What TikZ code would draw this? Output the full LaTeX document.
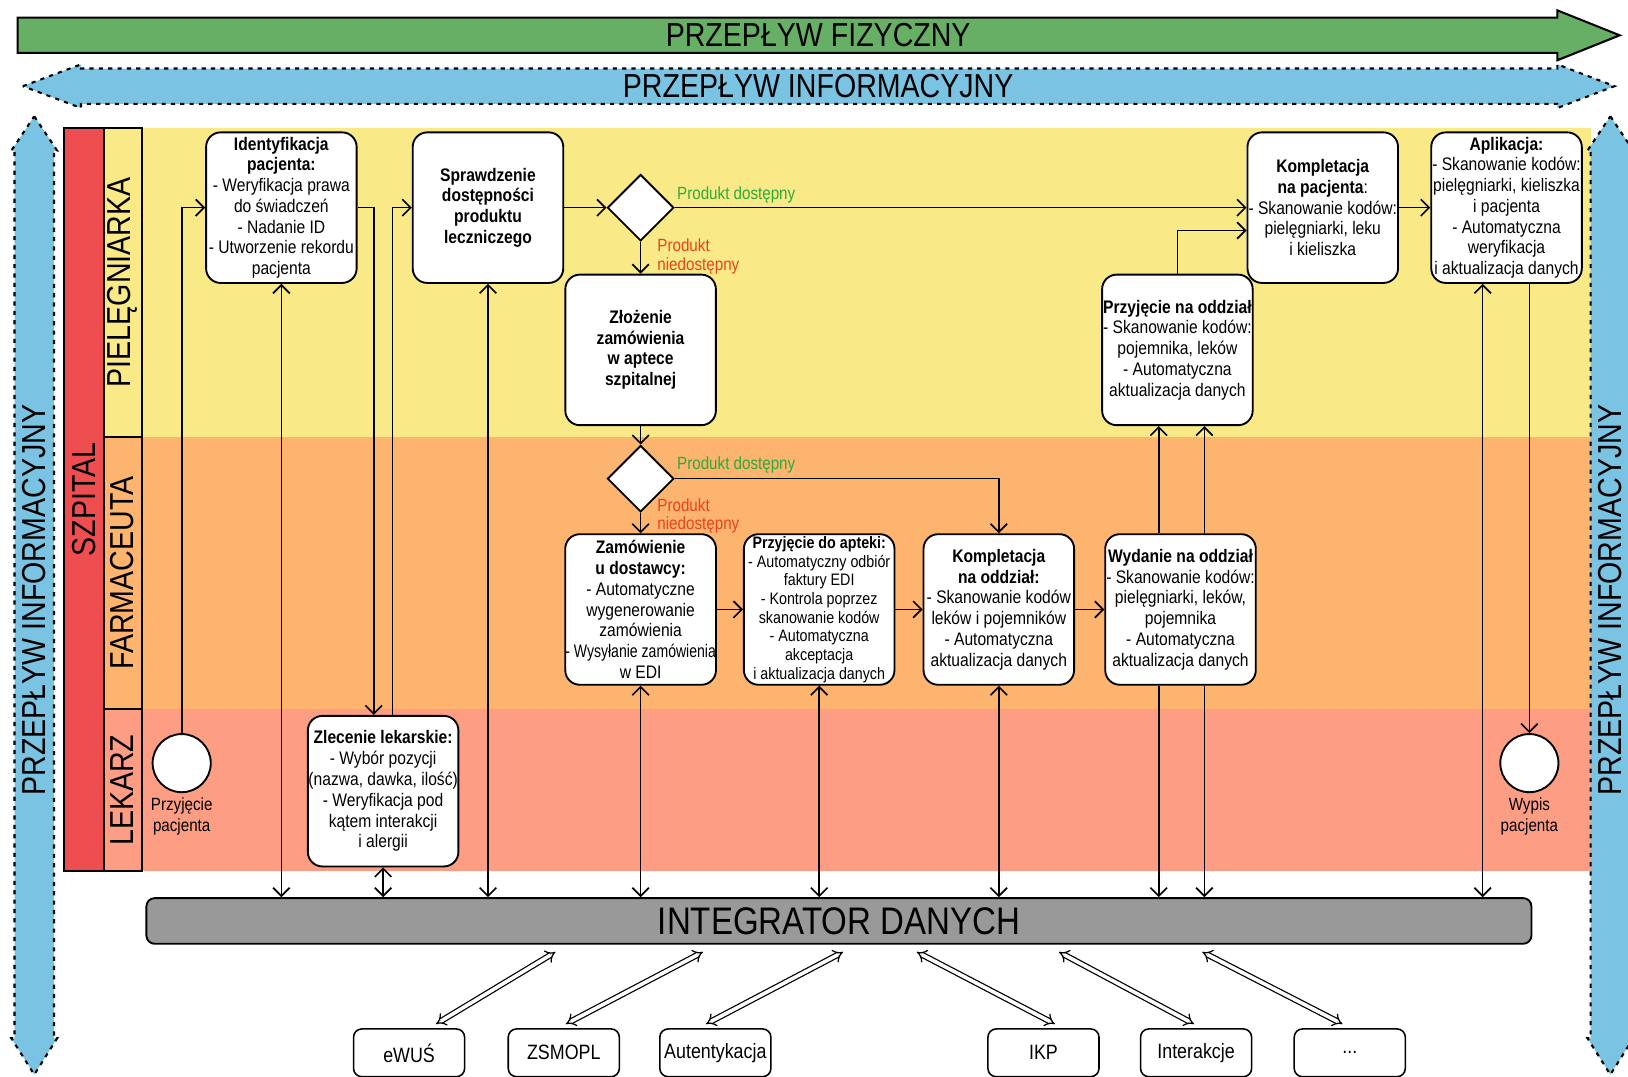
\documentclass[tikz,border=0pt]{standalone}
\usepackage{fontspec}
\usepackage{graphicx}
\setmainfont{Liberation Sans}[FakeStretch=0.86]
\usetikzlibrary{shapes.geometric,arrows.meta}
\definecolor{cgreen}{RGB}{104,175,102}
\definecolor{cblue}{RGB}{122,195,226}
\definecolor{cyellow}{RGB}{250,234,135}
\definecolor{corange}{RGB}{253,180,110}
\definecolor{csalmon}{RGB}{253,158,132}
\definecolor{cred}{RGB}{238,78,80}
\definecolor{cgray}{RGB}{153,153,153}
\definecolor{tgreen}{RGB}{46,170,58}
\definecolor{tred}{RGB}{232,67,30}
\begin{document}
\begin{tikzpicture}[x=1pt,y=-1pt,
  box/.style={draw, line width=1.8pt, rounded corners=14pt, fill=white, minimum width=145pt, minimum height=145pt, align=center, inner sep=0pt, font=\fontsize{17.5}{20}\selectfont},
  smallbox/.style={box, font=\fontsize{16}{18}\selectfont},
  sbox/.style={draw, line width=1.5pt, rounded corners=8pt, fill=white, minimum width=107pt, minimum height=46pt, font=\fontsize{20}{22}\selectfont},
  dec/.style={diamond, draw, fill=white, line width=1.8pt, minimum width=64pt, minimum height=64pt, inner sep=0pt, aspect=1},
  endpt/.style={circle, draw, fill=white, line width=1.8pt, minimum size=56pt, inner sep=0pt},
  flow/.style={line width=1.6pt, -{Straight Barb[length=8pt,width=16pt]}},
  both/.style={line width=1.6pt, {Straight Barb[length=8pt,width=16pt]}-{Straight Barb[length=8pt,width=16pt]}},
  dbl/.style={double, double distance=3.5pt, line width=1.2pt, {Implies}-{Implies}},
  lanetxt/.style={rotate=90, font=\fontsize{32}{34}\selectfont},
  bigtxt/.style={font=\fontsize{32}{34}\selectfont},
  lbl/.style={font=\fontsize{17}{18}\selectfont, align=left, inner sep=0pt},
  infoarrow/.style={fill=cblue},
  infoedge/.style={line width=2pt, dash pattern=on 4pt off 5pt}
]
\useasboundingbox (0,0) rectangle (1568,1037);
\fill[white] (0,0) rectangle (1568,1037);

% physical flow arrow
\draw[line width=2pt, fill=cgreen] (17,17) -- (1500,17) -- (1500,10) -- (1560,34) -- (1500,58) -- (1500,51) -- (17,51) -- cycle;
\node[bigtxt] (phys) at (788,34) {PRZEPŁYW FIZYCZNY};

% horizontal information arrow
\fill[infoarrow] (22,83) -- (78,62) -- (78,66) -- (1500,66) -- (1500,62) -- (1555,83) -- (1500,104) -- (1500,100) -- (78,100) -- (78,104) -- cycle;
\draw[infoedge] (22,83) -- (78,62) -- (78,66) -- (1500,66) -- (1500,62) -- (1555,83) -- (1500,104) -- (1500,100) -- (78,100) -- (78,104) -- cycle;
\node[bigtxt] (infoh) at (788,83) {PRZEPŁYW INFORMACYJNY};

% lanes
\fill[cyellow] (62,123) rectangle (1532,421);
\fill[corange] (62,421) rectangle (1532,683);
\fill[csalmon] (62,683) rectangle (1532,839);

% vertical information arrows
\fill[infoarrow] (33,112) -- (55,145) -- (52,145) -- (52,1000) -- (55,1000) -- (33,1035) -- (11,1000) -- (14,1000) -- (14,145) -- (11,145) -- cycle;
\draw[infoedge] (33,112) -- (55,145) -- (52,145) -- (52,1000) -- (55,1000) -- (33,1035) -- (11,1000) -- (14,1000) -- (14,145) -- (11,145) -- cycle;
\node[lanetxt] (infol) at (33,578) {PRZEPŁYW INFORMACYJNY};
\fill[infoarrow] (1551,112) -- (1573,145) -- (1570,145) -- (1570,1000) -- (1573,1000) -- (1551,1035) -- (1529,1000) -- (1532,1000) -- (1532,145) -- (1529,145) -- cycle;
\draw[infoedge] (1551,112) -- (1573,145) -- (1570,145) -- (1570,1000) -- (1573,1000) -- (1551,1035) -- (1529,1000) -- (1532,1000) -- (1532,145) -- (1529,145) -- cycle;
\node[lanetxt] (infor) at (1551,578) {PRZEPŁYW INFORMACYJNY};

% lane headers
\draw[line width=1.8pt, fill=cred] (62,123) rectangle (100,839);
\node[lanetxt] (szp) at (81,481) {SZPITAL};
\draw[line width=1.8pt, fill=cyellow] (100,123) rectangle (137,421);
\node[lanetxt] (piel) at (118,272) {PIELĘGNIARKA};
\draw[line width=1.8pt, fill=corange] (100,421) rectangle (137,683);
\node[lanetxt] (farm) at (118,552) {FARMACEUTA};
\draw[line width=1.8pt, fill=csalmon] (100,683) rectangle (137,839);
\node[lanetxt] (lek) at (118,761) {LEKARZ};

% nodes
\node[box] (ident) at (271,200) {\textbf{Identyfikacja}\\\textbf{pacjenta:}\\- Weryfikacja prawa\\do świadczeń\\- Nadanie ID\\- Utworzenie rekordu\\pacjenta};
\node[box] (spr) at (470,200) {\textbf{Sprawdzenie}\\\textbf{dostępności}\\\textbf{produktu}\\\textbf{leczniczego}};
\node[dec] (d1) at (617,200) {};
\node[box] (zloz) at (617,337) {\textbf{Złożenie}\\\textbf{zamówienia}\\\textbf{w aptece}\\\textbf{szpitalnej}};
\node[dec] (d2) at (617,461) {};
\node[box] (zam) at (617,587) {\textbf{Zamówienie}\\\textbf{u dostawcy:}\\- Automatyczne\\wygenerowanie\\zamówienia\\\scalebox{0.9}[1]{- Wysyłanie zamówienia}\\w EDI};
\node[smallbox] (papt) at (789,587) {\textbf{Przyjęcie do apteki:}\\- Automatyczny odbiór\\faktury EDI\\- Kontrola poprzez\\skanowanie kodów\\- Automatyczna\\akceptacja\\i aktualizacja danych};
\node[box] (kodd) at (962,587) {\textbf{Kompletacja}\\\textbf{na oddział:}\\- Skanowanie kodów\\leków i pojemników\\- Automatyczna\\aktualizacja danych};
\node[box] (wyd) at (1137,587) {\textbf{Wydanie na oddział}\\- Skanowanie kodów:\\pielęgniarki, leków,\\pojemnika\\- Automatyczna\\aktualizacja danych};
\node[box] (podd) at (1134,337) {\textbf{Przyjęcie na oddział}\\- Skanowanie kodów:\\pojemnika, leków\\- Automatyczna\\aktualizacja danych};
\node[box] (kpac) at (1274,200) {\textbf{Kompletacja}\\\textbf{na pacjenta}:\\- Skanowanie kodów:\\pielęgniarki, leku\\i kieliszka};
\node[box] (apl) at (1451,200) {\textbf{Aplikacja:}\\- Skanowanie kodów:\\pielęgniarki, kieliszka\\i pacjenta\\- Automatyczna\\weryfikacja\\i aktualizacja danych};
\node[box] (zlec) at (369,762) {\textbf{Zlecenie lekarskie:}\\- Wybór pozycji\\(nazwa, dawka, ilość)\\- Weryfikacja pod\\kątem interakcji\\i alergii};
\node[endpt] (start) at (175,735) {};
\node[font=\fontsize{17}{20}\selectfont, align=center] (startl) at (175,786) {Przyjęcie\\pacjenta};
\node[endpt] (stop) at (1473,735) {};
\node[font=\fontsize{17}{20}\selectfont, align=center] (stopl) at (1473,786) {Wypis\\pacjenta};

\node[draw, line width=1.8pt, fill=cgray, rounded corners=8pt, minimum width=1334pt, minimum height=44pt, font=\fontsize{37}{40}\selectfont] (integ) at (808,887) {INTEGRATOR DANYCH};

\node[sbox] (ewus) at (394,1014) {eWUŚ};
\node[sbox] (zsm) at (543,1014) {ZSMOPL};
\node[sbox] (aut) at (689,1014) {Autentykacja};
\node[sbox] (ikp) at (1005,1014) {IKP};
\node[sbox] (inter) at (1152,1014) {Interakcje};
\node[sbox] (dots) at (1300,1014) {...};

% labels
\node[lbl, text=tgreen, anchor=west] (l1) at (652,188) {Produkt dostępny};
\node[lbl, text=tred, anchor=west] (l2) at (633,247) {Produkt\\niedostępny};
\node[lbl, text=tgreen, anchor=west] (l3) at (652,448) {Produkt dostępny};
\node[lbl, text=tred, anchor=west] (l4) at (633,497) {Produkt\\niedostępny};

% helper x positions
\coordinate (xa) at (360,0);
\coordinate (xb) at (378,0);
\coordinate (xc) at (1116,0);
\coordinate (xd) at (1160,0);
\coordinate (xe) at (1473,0);
\coordinate (xf) at (1428,0);

% connectors
\draw[flow] (start.north) |- (ident.west);
\draw[flow] (ident.east) -| (zlec.north -| xa);
\draw[flow] (zlec.north -| xb) |- (spr.west);
\draw[flow] (spr.east) -- (d1.west);
\draw[flow] (d1.east) -- (kpac.west);
\draw[flow] (d1.south) -- (zloz.north);
\draw[flow] (zloz.south) -- (d2.north);
\draw[flow] (d2.east) -| (kodd.north);
\draw[flow] (d2.south) -- (zam.north);
\draw[flow] (zam.east) -- (papt.west);
\draw[flow] (papt.east) -- (kodd.west);
\draw[flow] (kodd.east) -- (wyd.west);
\draw[flow] (wyd.north -| xc) -- (podd.south -| xc);
\draw[flow] (wyd.north -| xd) -- (podd.south -| xd);
\draw[flow] (podd.north) |- ([yshift=-22pt]kpac.west);
\draw[flow] (kpac.east) -- (apl.west);
\draw[flow] (apl.south -| xe) -- (stop.north);

\draw[both] (ident.south) -- (integ.north -| ident.south);
\draw[both] (spr.south) -- (integ.north -| spr.south);
\draw[both] (zlec.south) -- (integ.north -| zlec.south);
\draw[both] (zam.south) -- (integ.north -| zam.south);
\draw[both] (papt.south) -- (integ.north -| papt.south);
\draw[both] (kodd.south) -- (integ.north -| kodd.south);
\draw[flow] (wyd.south -| xc) -- (integ.north -| xc);
\draw[flow] (wyd.south -| xd) -- (integ.north -| xd);
\draw[both] (apl.south -| xf) -- (integ.north -| xf);

\draw[dbl] ([xshift=26pt,yshift=4pt]ewus.north) -- ([xshift=-273pt,yshift=-7pt]integ.south);
\draw[dbl] ([xshift=2pt,yshift=4pt]zsm.north) -- ([xshift=-131pt,yshift=-7pt]integ.south);
\draw[dbl] ([xshift=-9pt,yshift=4pt]aut.north) -- ([xshift=4pt,yshift=-7pt]integ.south);
\draw[dbl] ([xshift=11pt,yshift=4pt]ikp.north) -- ([xshift=75pt,yshift=-7pt]integ.south);
\draw[dbl] ([xshift=-2pt,yshift=4pt]inter.north) -- ([xshift=212pt,yshift=-7pt]integ.south);
\draw[dbl] ([xshift=-7pt,yshift=4pt]dots.north) -- ([xshift=350pt,yshift=-7pt]integ.south);
\end{tikzpicture}
\end{document}
